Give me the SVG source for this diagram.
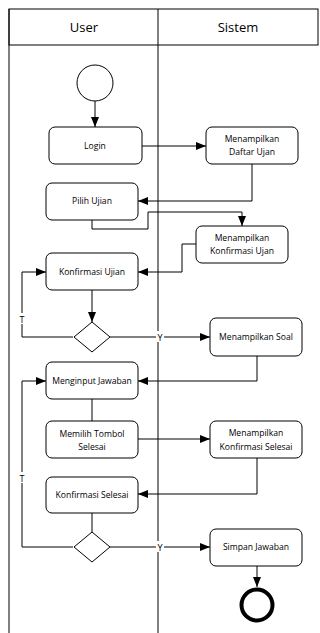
<svg xmlns="http://www.w3.org/2000/svg" width="320" height="633" viewBox="0 0 320 633">
<style>
.lane{fill:none;stroke:#000;stroke-width:1}
.box{fill:#fff;stroke:#000;stroke-width:1}
.t{font-family:"Open Sans","Noto Sans",sans-serif;font-size:8.6px;fill:#000;text-anchor:middle;dominant-baseline:central}
.h{font-family:"Open Sans","Noto Sans",sans-serif;font-size:13px;fill:#000;text-anchor:middle;dominant-baseline:central}
.c{fill:none;stroke:#000;stroke-width:1}
.lbl{font-family:"Open Sans","Noto Sans",sans-serif;font-size:9px;fill:#000;text-anchor:middle;dominant-baseline:central}
</style>
<defs>
<marker id="arr" viewBox="0 0 10 8" refX="10" refY="4" markerWidth="10" markerHeight="8" markerUnits="userSpaceOnUse" orient="auto">
<path d="M0,0 L10,4 L0,8 Z" fill="#000"/>
</marker>
</defs>
<rect width="320" height="633" fill="#fff"/>
<g id="lanes">
<rect class="lane" x="9" y="9" width="309" height="36"/>
<line class="lane" x1="9" y1="9" x2="9" y2="633"/>
<line class="lane" x1="158" y1="9" x2="158" y2="633"/>
<text class="h" x="84" y="27">User</text>
<text class="h" x="238" y="27">Sistem</text>
</g>
<g id="connectors">
<path class="c" d="M95,101 V127" marker-end="url(#arr)"/>
<path class="c" d="M142,146 H206" marker-end="url(#arr)"/>
<path class="c" d="M252,164 V201 H138" marker-end="url(#arr)"/>
<path class="c" d="M92,220 V229 H148 V212 H242 V226" marker-end="url(#arr)"/>
<path class="c" d="M196,244 H182 V272 H138" marker-end="url(#arr)"/>
<path class="c" d="M92,290 V322" marker-end="url(#arr)"/>
<path class="c" d="M73,337 H22 V272 H46" marker-end="url(#arr)"/>
<path class="c" d="M110,337 H210" marker-end="url(#arr)"/>
<path class="c" d="M257,356 V381 H138" marker-end="url(#arr)"/>
<path class="c" d="M92,399 V421"/>
<path class="c" d="M138,439 H210" marker-end="url(#arr)"/>
<path class="c" d="M257,458 V494 H138" marker-end="url(#arr)"/>
<path class="c" d="M92,513 V532"/>
<path class="c" d="M73,547 H22 V381 H46" marker-end="url(#arr)"/>
<path class="c" d="M110,547 H210" marker-end="url(#arr)"/>
<path class="c" d="M257,566 V587" marker-end="url(#arr)"/>
<rect x="18" y="313" width="8" height="11" fill="#fff"/>
<text class="lbl" x="22" y="319">T</text>
<rect x="18" y="472" width="8" height="11" fill="#fff"/>
<text class="lbl" x="22" y="478">T</text>
<rect x="156" y="331" width="8" height="11" fill="#fff"/>
<text class="lbl" x="160" y="337">Y</text>
<rect x="156" y="541" width="8" height="11" fill="#fff"/>
<text class="lbl" x="160" y="547">Y</text>
</g>
<g id="start"><circle cx="95" cy="83" r="18" fill="#fff" stroke="#000" stroke-width="1"/></g>
<g id="login"><rect class="box" x="49" y="127" width="93" height="37" rx="6"/><text class="t" x="95" y="146">Login</text></g>
<g id="daftar"><rect class="box" x="206" y="127" width="92" height="37" rx="6"/><text class="t" x="252" y="139">Menampilkan</text><text class="t" x="252" y="152">Daftar Ujan</text></g>
<g id="pilih"><rect class="box" x="46" y="183" width="92" height="37" rx="6"/><text class="t" x="92" y="201">Pilih Ujian</text></g>
<g id="tampilkonf"><rect class="box" x="196" y="226" width="92" height="37" rx="6"/><text class="t" x="242" y="238">Menampilkan</text><text class="t" x="242" y="251">Konfirmasi Ujan</text></g>
<g id="konfujian"><rect class="box" x="46" y="253" width="92" height="37" rx="6"/><text class="t" x="92" y="272">Konfirmasi Ujian</text></g>
<g id="dec1"><polygon points="92,322 110,337 92,352 74,337" fill="#fff" stroke="#000" stroke-width="1"/></g>
<g id="soal"><rect class="box" x="210" y="318" width="92" height="38" rx="6"/><text class="t" x="256" y="337">Menampilkan Soal</text></g>
<g id="input"><rect class="box" x="46" y="362" width="92" height="37" rx="6"/><text class="t" x="92" y="381">Menginput Jawaban</text></g>
<g id="memilih"><rect class="box" x="46" y="421" width="92" height="37" rx="6"/><text class="t" x="92" y="434">Memilih Tombol</text><text class="t" x="92" y="447">Selesai</text></g>
<g id="tampilselesai"><rect class="box" x="210" y="421" width="92" height="37" rx="6"/><text class="t" x="256" y="433">Menampilkan</text><text class="t" x="256" y="447">Konfirmasi Selesai</text></g>
<g id="konfselesai"><rect class="box" x="46" y="477" width="92" height="36" rx="6"/><text class="t" x="92" y="495">Konfirmasi Selesai</text></g>
<g id="dec2"><polygon points="92,532 110,547 92,562 74,547" fill="#fff" stroke="#000" stroke-width="1"/></g>
<g id="simpan"><rect class="box" x="210" y="529" width="92" height="37" rx="6"/><text class="t" x="256" y="547">Simpan Jawaban</text></g>
<g id="end"><circle cx="257" cy="605" r="15.5" fill="#fff" stroke="#000" stroke-width="4"/></g>
</svg>
